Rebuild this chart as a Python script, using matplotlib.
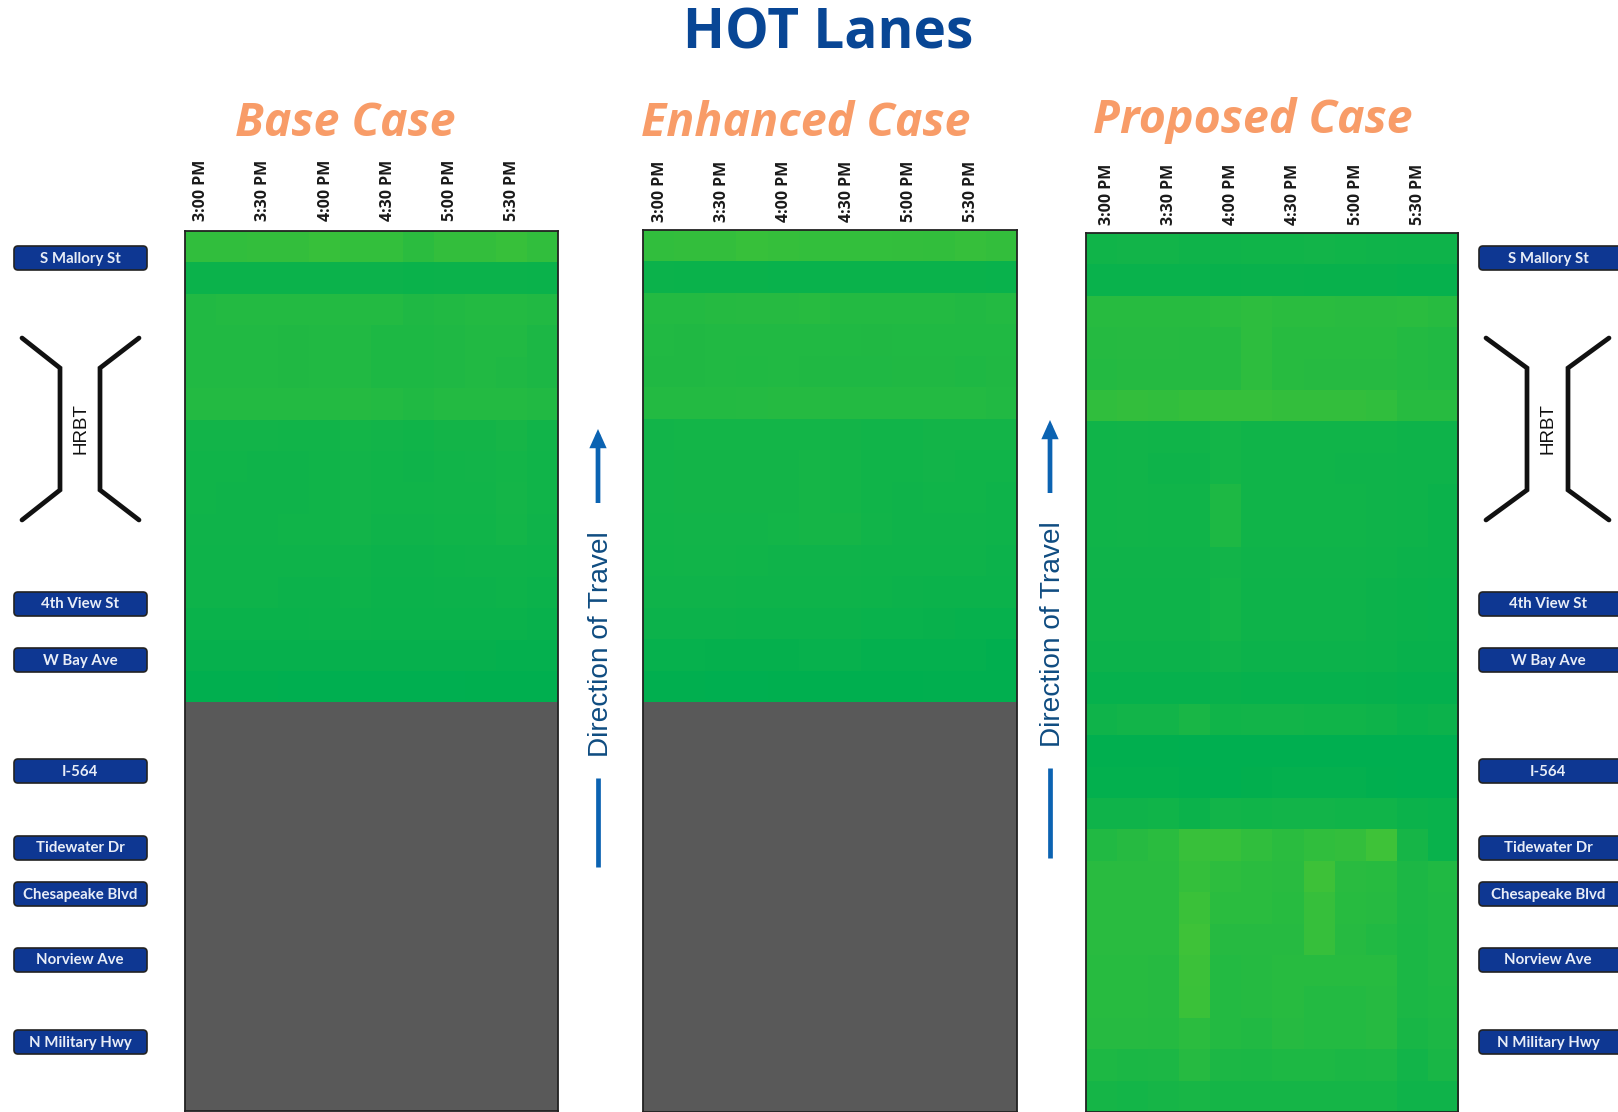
import numpy as np
import matplotlib
matplotlib.use("Agg")
import matplotlib.pyplot as plt
from matplotlib.colors import LinearSegmentedColormap
from matplotlib.patches import FancyBboxPatch

W, H = 1618, 1112

time_labels = ["3:00 PM", "3:30 PM", "4:00 PM", "4:30 PM", "5:00 PM", "5:30 PM"]
road_labels = ["S Mallory St", "4th View St", "W Bay Ave", "I-564", "Tidewater Dr",
               "Chesapeake Blvd", "Norview Ave", "N Military Hwy"]
road_y = [258, 604, 660, 771, 848, 894, 960, 1042]
case_names = ["Base Case", "Enhanced Case", "Proposed Case"]

# speed shade, 0 = darkest green, 1 = lightest green
base_case = [
    [.70, .70, .72, .72, .78, .73, .73, .62, .72, .72, .78, .70],
    [.17, .17, .17, .17, .17, .18, .18, .15, .16, .16, .17, .15],
    [.48, .50, .50, .50, .50, .50, .50, .44, .48, .50, .50, .47],
    [.47, .47, .47, .45, .47, .47, .42, .42, .44, .47, .47, .40],
    [.47, .47, .47, .45, .47, .47, .42, .42, .44, .47, .44, .40],
    [.50, .50, .50, .50, .50, .52, .50, .46, .50, .50, .50, .47],
    [.26, .26, .26, .25, .25, .28, .26, .24, .27, .27, .32, .25],
    [.24, .24, .22, .22, .24, .26, .24, .22, .25, .26, .28, .23],
    [.24, .22, .22, .22, .23, .26, .24, .24, .25, .25, .29, .23],
    [.22, .22, .22, .24, .24, .26, .22, .22, .24, .24, .28, .22],
    [.21, .21, .21, .21, .21, .21, .18, .18, .19, .20, .21, .19],
    [.20, .20, .20, .18, .18, .19, .17, .17, .18, .18, .19, .17],
    [.15, .15, .15, .15, .17, .17, .15, .15, .15, .15, .15, .12],
    [.09, .09, .09, .09, .09, .09, .09, .09, .09, .09, .06, .06],
    [.02, .02, .02, .00, .00, .00, .00, .00, .00, .01, .01, .01],
]
enhanced_case = [
    [.70, .72, .72, .78, .75, .73, .73, .73, .72, .71, .76, .72],
    [.16, .15, .15, .15, .14, .14, .15, .15, .15, .15, .15, .14],
    [.50, .50, .52, .54, .54, .56, .50, .50, .50, .50, .48, .50],
    [.47, .45, .47, .47, .48, .48, .46, .45, .46, .46, .46, .46],
    [.45, .45, .47, .46, .47, .45, .44, .44, .45, .45, .43, .45],
    [.50, .50, .50, .51, .52, .53, .50, .50, .50, .50, .50, .48],
    [.26, .28, .28, .28, .28, .28, .27, .25, .25, .27, .27, .27],
    [.26, .27, .27, .27, .27, .30, .28, .24, .24, .26, .23, .23],
    [.26, .27, .27, .27, .27, .30, .28, .24, .22, .24, .24, .20],
    [.25, .26, .26, .26, .28, .30, .30, .25, .22, .22, .22, .20],
    [.24, .25, .25, .23, .22, .22, .22, .21, .20, .20, .20, .18],
    [.22, .22, .22, .20, .20, .20, .20, .19, .18, .17, .17, .16],
    [.18, .18, .18, .16, .17, .17, .16, .14, .14, .12, .10, .10],
    [.10, .10, .08, .08, .08, .11, .11, .07, .06, .07, .07, .03],
    [.03, .03, .00, .00, .01, .01, .01, .01, .01, .02, .02, .02],
]
proposed_case = [
    [.24, .26, .26, .22, .22, .24, .24, .26, .24, .22, .20, .20],
    [.14, .14, .14, .14, .12, .13, .13, .12, .12, .12, .10, .10],
    [.56, .56, .56, .56, .60, .64, .60, .60, .58, .58, .60, .56],
    [.52, .54, .54, .52, .52, .64, .56, .56, .56, .56, .50, .48],
    [.50, .52, .52, .52, .52, .64, .56, .54, .54, .54, .50, .48],
    [.68, .72, .70, .74, .76, .76, .72, .72, .72, .68, .56, .56],
    [.24, .25, .24, .24, .28, .24, .24, .24, .24, .24, .20, .20],
    [.24, .25, .20, .20, .28, .24, .24, .24, .22, .22, .20, .20],
    [.24, .25, .24, .24, .42, .24, .24, .24, .24, .22, .20, .17],
    [.24, .25, .24, .24, .42, .24, .24, .24, .24, .22, .20, .17],
    [.22, .22, .22, .22, .26, .22, .22, .22, .22, .20, .18, .16],
    [.20, .20, .20, .20, .28, .20, .20, .20, .20, .18, .15, .14],
    [.20, .20, .20, .20, .28, .20, .20, .20, .20, .18, .15, .14],
    [.18, .18, .18, .18, .22, .18, .18, .18, .18, .16, .12, .12],
    [.10, .10, .10, .10, .12, .10, .10, .10, .10, .09, .06, .06],
    [.22, .26, .26, .36, .24, .26, .26, .24, .24, .20, .14, .18],
    [.02, .02, .02, .00, .00, .00, .00, .00, .00, .00, .00, .00],
    [.05, .05, .05, .02, .00, .04, .06, .06, .06, .03, .00, .00],
    [.22, .22, .24, .16, .26, .24, .26, .26, .24, .24, .16, .14],
    [.48, .54, .60, .80, .78, .68, .60, .68, .72, .88, .32, .14],
    [.58, .58, .58, .74, .64, .60, .58, .86, .58, .56, .40, .46],
    [.58, .58, .58, .82, .60, .60, .56, .76, .56, .54, .40, .44],
    [.58, .58, .58, .88, .54, .54, .54, .76, .54, .48, .38, .44],
    [.56, .56, .54, .84, .50, .52, .56, .56, .56, .56, .38, .44],
    [.56, .56, .54, .82, .50, .52, .56, .50, .50, .54, .38, .42],
    [.54, .54, .52, .62, .50, .48, .54, .50, .50, .54, .34, .40],
    [.42, .38, .40, .54, .40, .38, .42, .42, .38, .40, .26, .36],
    [.30, .28, .32, .34, .30, .30, .30, .30, .30, .30, .22, .22],
]

NAVY = "#0E3792"
BLUE = "#084695"
ORANGE = "#F89C68"
ARROW = "#0B63B2"
TEXT_BLUE = "#0F4C81"

cmap = LinearSegmentedColormap.from_list("speed", ["#00AF50", "#47C535"])
cmap.set_bad("#595959")

plt.rcParams["font.family"] = ["Open Sans", "DejaVu Sans"]
fig = plt.figure(figsize=(W / 100, H / 100), dpi=100)

# px overlay so the furniture can be placed like the slide it came from
ov = fig.add_axes([0, 0, 1, 1], zorder=5)
ov.set_xlim(0, W)
ov.set_ylim(H, 0)
ov.axis("off")
ov.patch.set_alpha(0)


def heat_panel(values, left, right, top, bottom, tick_shift, pad):
    arr = np.full((28, 12), np.nan)
    vals = np.array(values)
    arr[: vals.shape[0]] = vals
    ax = fig.add_axes([left / W, 1 - bottom / H, (right - left) / W, (bottom - top) / H])
    ax.imshow(arr, cmap=cmap, vmin=0, vmax=1, aspect="auto", interpolation="nearest")
    ax.set_xticks(np.arange(0, 12, 2) + tick_shift)
    ax.set_xticklabels(time_labels, rotation=90, fontsize=11.5, fontweight="bold", color="#1a1a1a")
    ax.xaxis.tick_top()
    ax.tick_params(axis="x", length=0, pad=pad)
    ax.set_yticks([])
    for s in ax.spines.values():
        s.set_linewidth(1.3)
        s.set_color("#222222")
    return ax


heat_panel(base_case, 184.5, 557.5, 231, 1111, 0.04, 7.5)
heat_panel(enhanced_case, 643, 1017, 230, 1112, 0.03, 6)
heat_panel(proposed_case, 1085.5, 1458, 233, 1112, 0.2, 6)

ov.text(828, 34, "HOT Lanes", fontsize=39.5, fontweight="bold", color=BLUE, ha="center", va="center")
for name, cx, cy in zip(case_names, [345, 806, 1253], [124, 124, 120]):
    ov.text(cx, cy, name, fontsize=33.5, fontweight="bold", fontstyle="italic", color=ORANGE,
            ha="center", va="center")

for x0, x1, tx in [(14, 147, 80), (1479, 1630, 1548)]:
    for label, y in zip(road_labels, road_y):
        ov.add_patch(FancyBboxPatch((x0, y - 12), x1 - x0, 24, boxstyle="round,pad=0,rounding_size=4",
                                    fc=NAVY, ec="#222222", lw=1.2, clip_on=True))
        ov.text(tx, y + 0.5, label, fontsize=10.8, fontweight="bold", color="#E8EDF7", ha="center", va="center",
                family=["Lato", "DejaVu Sans"])

# tunnel symbols
for a, b, c, d, tx in [(22, 60, 139, 100, 81), (1486, 1527, 1609, 1568, 1548)]:
    ov.plot([a, b, b, a], [338, 368, 490, 520], color="#111111", lw=3.4, solid_joinstyle="miter", solid_capstyle="round")
    ov.plot([c, d, d, c], [338, 368, 490, 520], color="#111111", lw=3.4, solid_joinstyle="miter", solid_capstyle="round")
    ov.text(tx, 429, "HRBT", rotation=90, fontsize=13.5, color="#111111", ha="center", va="center",
            family=["Liberation Sans", "DejaVu Sans"])

# direction of travel markers
for x, tip, shaft, low0, low1, ty in [(598, 429, 503, 778, 867, 644), (1050, 420, 493, 768, 858, 634)]:
    ov.annotate("", xy=(x, tip), xytext=(x, shaft),
                arrowprops=dict(arrowstyle="-|>,head_length=0.8,head_width=0.36", color=ARROW, lw=3.4,
                                shrinkA=0, shrinkB=0, joinstyle="miter", capstyle="butt"))
    ov.plot([x, x], [low0, low1], color=ARROW, lw=3.4, solid_capstyle="butt")
    ov.text(x + 3, ty, "Direction of Travel", rotation=90, fontsize=20.2, color=TEXT_BLUE, ha="center", va="center",
            family=["Liberation Sans", "DejaVu Sans"])

fig.savefig("out.png", dpi=100, facecolor="white")
